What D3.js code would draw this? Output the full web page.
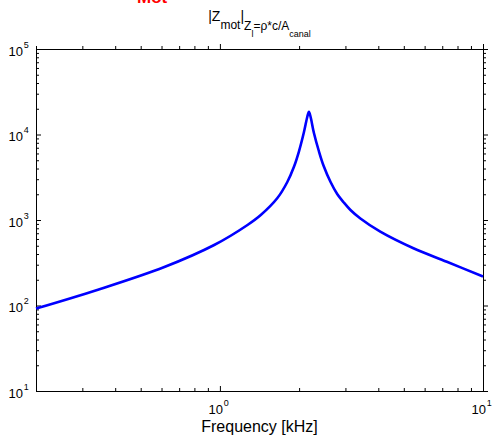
<!DOCTYPE html>
<html>
<head>
<meta charset="utf-8">
<script src="https://cdn.jsdelivr.net/npm/d3@7"></script>
<style>
  html, body { margin: 0; padding: 0; background: #fff; }
  svg { display: block; font-family: "Liberation Sans", Arial, Helvetica, sans-serif; }
</style>
</head>
<body>
<svg id="chart" width="494" height="437"></svg>
<script>
// Motional impedance magnitude versus frequency (log-log)
const freqKHz = [0.2, 0.344, 0.615, 0.951, 1.273, 1.43, 1.654, 1.804, 1.912, 1.998, 2.086, 2.148, 2.18,
                 2.212, 2.277, 2.377, 2.48, 2.634, 2.791, 2.957, 3.135, 3.42, 4.07, 5.44, 7.29, 10];
const zMot    = [92, 153, 282, 510, 875, 1144, 1807, 2782, 4191, 6361, 10610, 16020, 18480,
                 16020, 10410, 6412, 4281, 2782, 2014, 1602, 1309, 1041, 730, 467, 325, 218];

const xDomain = [0.2, 10];
const yDomain = [10, 1e5];
const xMajorExp = [0, 1];
const yMajorExp = [1, 2, 3, 4, 5];

const plot = { left: 36, right: 483, top: 49, bottom: 391 };

const svg = d3.select("#chart");
const x = d3.scaleLog().domain(xDomain).range([plot.left, plot.right]);
const y = d3.scaleLog().domain(yDomain).range([plot.bottom, plot.top]);

// major/minor tick positions for the log axes
function logTicks(domain) {
  const major = [], minor = [];
  const lo = Math.floor(Math.log10(domain[0])), hi = Math.ceil(Math.log10(domain[1]));
  for (let e = lo; e <= hi; e++) {
    for (let m = 1; m <= 9; m++) {
      const v = m * Math.pow(10, e);
      if (v < domain[0] * 0.999 || v > domain[1] * 1.001) continue;
      (m === 1 ? major : minor).push(v);
    }
  }
  return { major, minor };
}
const xt = logTicks(xDomain), yt = logTicks(yDomain);

function tickLayer(axisFn, scale, values, size, transform) {
  const g = svg.append("g").attr("transform", transform)
    .call(axisFn(scale).tickValues(values).tickSizeInner(-size).tickSizeOuter(0).tickFormat(""));
  g.select(".domain").remove();
  g.selectAll(".tick line").attr("stroke", "#000").attr("stroke-width", 1);
  return g;
}

// ticks on all four sides, pointing inward
[[xt.major, 5], [xt.minor, 3]].forEach(([vals, sz]) => {
  tickLayer(d3.axisBottom, x, vals, sz, `translate(0,${plot.bottom})`);
  tickLayer(d3.axisTop, x, vals, -sz, `translate(0,${plot.top})`);
});
[[yt.major, 5], [yt.minor, 3]].forEach(([vals, sz]) => {
  tickLayer(d3.axisLeft, y, vals, sz, `translate(${plot.left},0)`);
  tickLayer(d3.axisRight, y, vals, -sz, `translate(${plot.right},0)`);
});

// axes box
svg.append("rect")
  .attr("x", plot.left + 0.5).attr("y", plot.top + 0.5)
  .attr("width", plot.right - plot.left).attr("height", plot.bottom - plot.top)
  .attr("fill", "none").attr("stroke", "#000").attr("stroke-width", 1);

// curve
const line = d3.line()
  .x((d, i) => x(freqKHz[i]))
  .y(d => y(d))
  .curve(d3.curveCatmullRom.alpha(0.5));
svg.append("path")
  .datum(zMot)
  .attr("d", line)
  .attr("fill", "none")
  .attr("stroke", "#0000ff")
  .attr("stroke-width", 2.6)
  .attr("stroke-linejoin", "round");

// power-of-ten tick labels
function powLabel(xEnd, baseY, exp) {
  svg.append("text").attr("x", xEnd).attr("y", baseY)
    .attr("text-anchor", "end").attr("font-size", 13).attr("fill", "#000").text("10");
  svg.append("text").attr("x", xEnd + 0.8).attr("y", baseY - 8)
    .attr("font-size", 9).attr("fill", "#000").text(exp);
}
xMajorExp.forEach(e => powLabel(x(Math.pow(10, e)) + 3, 414, e));
yMajorExp.forEach(e => powLabel(23, y(Math.pow(10, e)) + 6.5, e));

// x-axis label
svg.append("text")
  .attr("x", (plot.left + plot.right) / 2).attr("y", 432)
  .attr("text-anchor", "middle").attr("font-size", 16).attr("fill", "#000")
  .text("Frequency [kHz]");

// title with nested subscripts
const title = svg.append("text")
  .attr("x", (plot.left + plot.right) / 2).attr("y", 21)
  .attr("text-anchor", "middle").attr("fill", "#000").attr("font-size", 14);
title.append("tspan").text("|Z");
title.append("tspan").attr("font-size", 12).attr("dy", 8).text("mot");
title.append("tspan").attr("dy", -8).text("|");
title.append("tspan").attr("font-size", 12).attr("dy", 9).text("Z");
title.append("tspan").attr("font-size", 9).attr("dy", 7).text("l");
title.append("tspan").attr("font-size", 12).attr("dy", -7).text("=ρ*c/A");
title.append("tspan").attr("font-size", 9).attr("dy", 7).text("canal");

// heading above the title, running off the top edge
svg.append("text")
  .attr("x", 137).attr("y", 2.5)
  .attr("font-size", 17).attr("font-weight", "bold").attr("fill", "#ff0000")
  .text("Mot");
</script>
</body>
</html>
